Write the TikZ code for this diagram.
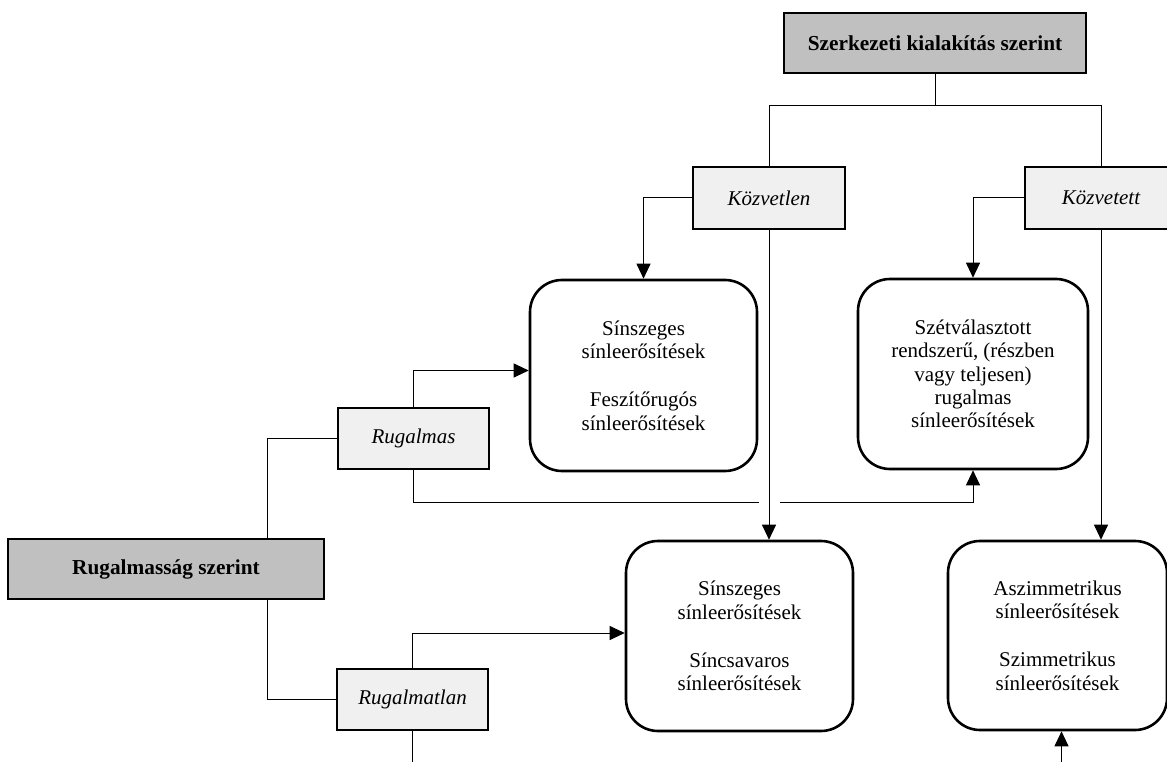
\documentclass[tikz,border=0pt]{standalone}
\usepackage{fontspec}
\setmainfont{Liberation Serif}
\usetikzlibrary{arrows.meta,calc}
\definecolor{hdrgray}{HTML}{C0C0C0}
\definecolor{boxgray}{HTML}{F0F0F0}
\begin{document}
\begin{tikzpicture}[x=1pt,y=-1pt,
  header/.style={draw=black,line width=1.8pt,fill=hdrgray,inner sep=0pt,
    font=\fontsize{21.3}{24}\selectfont\bfseries},
  sub/.style={draw=black,line width=1.8pt,fill=boxgray,inner sep=0pt,
    minimum width=152pt,minimum height=62pt,font=\fontsize{21}{24}\selectfont\itshape},
  group/.style={draw=black,line width=2.6pt,fill=white,rounded corners=32pt,inner sep=0pt,
    align=center,font=\fontsize{21}{23.3}\selectfont},
  conn/.style={draw=black,line width=1pt},
  arr/.style={conn,-{Triangle[length=15pt,width=14pt]}}]
\useasboundingbox (0,0) rectangle (1167,762);
% header boxes
\node[header,minimum width=302pt,minimum height=60pt] (szk) at (935,43) {Szerkezeti kialakítás szerint};
\node[header,minimum width=316pt,minimum height=60pt] (rsz) at (166,569) {Rugalmasság szerint};
% sub boxes
\node[sub] (kozv) at (769,198) {Közvetlen};
\node[sub] (kozt) at (1101,198) {Közvetett};
\node[sub,minimum width=151pt,minimum height=61pt] (rug) at (413.5,438.5) {Rugalmas};
\node[sub,minimum width=151pt,minimum height=61pt] (rtl) at (412.5,699.5) {Rugalmatlan};
% group boxes
\node[group,minimum width=227pt,minimum height=191pt] (A) at (643.5,375.5)
  {Sínszeges\\sínleerősítések\\[25pt]Feszítőrugós\\sínleerősítések};
\node[group,minimum width=230pt,minimum height=190pt] (B) at (973,374)
  {Szétválasztott\\rendszerű, (részben\\vagy teljesen)\\rugalmas\\sínleerősítések};
\node[group,minimum width=227pt,minimum height=190pt] (C) at (739.5,636)
  {Sínszeges\\sínleerősítések\\[25pt]Síncsavaros\\sínleerősítések};
\node[group,minimum width=219pt,minimum height=189pt] (D) at (1057.5,635.5)
  {Aszimmetrikus\\sínleerősítések\\[25pt]Szimmetrikus\\sínleerősítések};
% helper coordinates
\coordinate (jt) at ($(szk.south)+(0,32)$);
\coordinate (hy) at ($(rug.south)+(0,33)$);
\coordinate (gapL) at ($(kozv.south |- hy)+(-10,0)$);
\coordinate (gapR) at ($(kozv.south |- hy)+(11,0)$);
\coordinate (rszN) at ($(rsz.north east)+(-57,0)$);
\coordinate (rszS) at ($(rsz.south east)+(-57,0)$);
\coordinate (rtlEnd) at ($(rtl.south)+(0,40)$);
\coordinate (Dbot) at ($(D.south)+(4,40)$);
\coordinate (Din) at ($(D.south)+(4,0)$);
% connectors
\draw[conn] (szk.south) -- (jt);
\draw[conn] (kozv.north) |- (jt) -| (kozt.north);
\draw[arr] (kozv.west) -| (A.north);
\draw[arr] (kozt.west) -| (B.north);
\draw[arr] (kozv.south) -- (kozv.south |- C.north);
\draw[arr] (kozt.south) -- (kozt.south |- D.north);
\draw[arr] (rug.north) |- ($(A.west)+(0,-5)$);
\draw[conn] (rug.west) -| (rszN);
\draw[conn] (rszS) |- (rtl.west);
\draw[conn] (rug.south) |- (gapL);
\draw[arr] (gapR) -| (B.south);
\draw[arr] (rtl.north) |- ($(C.west)+(0,-3)$);
\draw[conn] (rtl.south) -- (rtlEnd);
\draw[arr] (Dbot) -- (Din);
\end{tikzpicture}
\end{document}
